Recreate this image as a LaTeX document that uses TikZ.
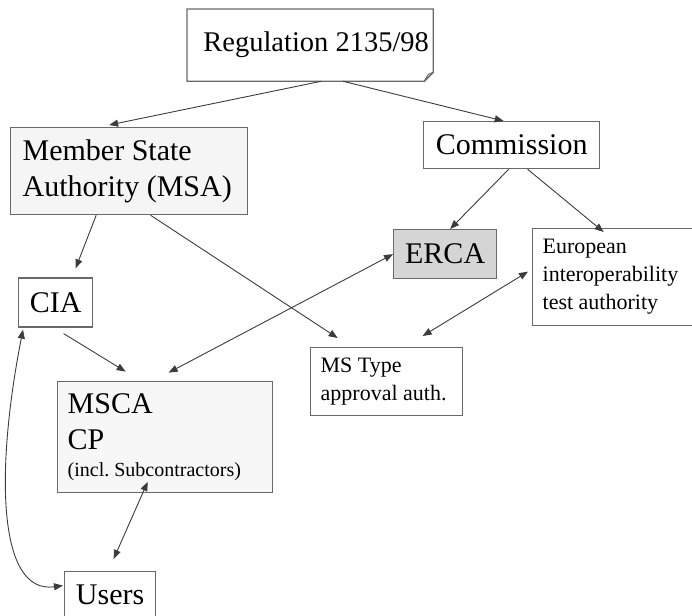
\documentclass[tikz,border=0pt]{standalone}
\usepackage{fontspec}
\setmainfont{Liberation Serif}
\frenchspacing
\usetikzlibrary{positioning, calc, arrows.meta}
\definecolor{boxline}{RGB}{105,105,105}
\definecolor{arrowline}{RGB}{60,60,60}
\tikzset{
bigtext/.style = {font = \fontsize{30}{36}\selectfont},
smalltext/.style = {font = \fontsize{22}{28}\selectfont},
authority/.style = {rectangle, draw = boxline, line width = 1.3pt, inner ysep = 0pt,
   inner xsep = 0pt, anchor = north west, bigtext},
leftbox/.style = {authority, align = flush left},
link/.style = {-{Triangle[length = 9pt, width = 7pt]}, color = arrowline,
   line width = 0.9pt},
mutual/.style = {{Triangle[length = 9pt, width = 7pt]}-{Triangle[length = 9pt, width = 7pt]},
   color = arrowline, line width = 0.9pt}
}
\begin{document}
\begin{tikzpicture}[x = 1pt, y = -1pt]
\useasboundingbox (0,0) rectangle (692,615);

%% Regulation (note with folded corner)
\node [authority, draw = none, bigtext, font = \fontsize{28.5}{34}\selectfont,
   minimum width = 245pt, minimum height = 71pt] (Reg) at (187,9) {\hspace{12pt}Regulation 2135/98};
\draw [draw = boxline, line width = 1.3pt] (Reg.north west) -- (Reg.north east)
   -- ([yshift = 9pt]Reg.south east) -- ([xshift = -9pt]Reg.south east)
   -- (Reg.south west) -- cycle;
\draw [draw = boxline, line width = 1pt] ([xshift = -9pt]Reg.south east)
   -- ([xshift = -5pt, yshift = 7pt]Reg.south east) -- ([yshift = 9pt]Reg.south east);

%% Member state side
\node [leftbox, fill = gray!8, inner xsep = 12pt, text width = 213pt,
   minimum height = 87pt] (MSA) at (10,127) {Member State\\Authority (MSA)};
\node [authority, minimum width = 74pt, minimum height = 49pt] (CIA)
   [below right = 62pt and 8pt of MSA.south west] {CIA};
\node [leftbox, fill = gray!6, inner xsep = 10pt, text width = 195pt,
   minimum height = 111pt] (MSCA) [below right = 53pt and 39pt of CIA.south west]
   {MSCA\\CP\\[-9pt]{\fontsize{20}{24}\selectfont (incl. Subcontractors)}};
\node [authority, minimum width = 91pt, minimum height = 47pt] (Users)
   [below right = 78pt and 7pt of MSCA.south west] {Users};

%% Commission side
\node [authority, minimum width = 176pt, minimum height = 47pt] (Com) at (423,121) {Commission};
\node [authority, fill = gray!33, minimum width = 103pt, minimum height = 49pt] (ERCA)
   at (393,229) {ERCA};
\node [leftbox, smalltext, inner xsep = 10pt, text width = 140pt, minimum height = 97pt]
   (Eur) at (532,228) {European\\interoperability\\test authority};
\node [leftbox, smalltext, inner xsep = 10pt, text width = 132pt, minimum height = 68pt]
   (MST) at (310,347) {MS Type\\approval auth.};

%% Hierarchy
\draw [link] ([xshift = 11pt]Reg.south) -- ([xshift = -20pt, yshift = 2pt]MSA.north);
\draw [link] ([xshift = 33pt]Reg.south) -- ([xshift = -8pt]Com.north);
\draw [link] ([xshift = -3pt]Com.south) -- ([xshift = 5pt]ERCA.north);
\draw [link] ([xshift = 16pt]Com.south) -- ([xshift = -9pt, yshift = -4pt]Eur.north);
\draw [link] ([xshift = -33pt]MSA.south) -- ([xshift = 20pt, yshift = 9pt]CIA.north);
\draw [link] ([xshift = 21.5pt]MSA.south) -- ([xshift = -49pt, yshift = 9pt]MST.north);
\draw [link] ([xshift = 8pt, yshift = -6pt]CIA.south) -- ([xshift = -39.5pt, yshift = 9pt]MSCA.north);

%% Mutual links
\draw [mutual] (ERCA.west) -- ([xshift = 3.5pt, yshift = 8pt]MSCA.north);
\draw [mutual] ([xshift = -4pt, yshift = 5.5pt]Eur.west) -- ([xshift = 36pt, yshift = 11pt]MST.north);
\draw [mutual] ([xshift = -17.5pt, yshift = 11pt]MSCA.south) -- ([xshift = 3.5pt, yshift = 12pt]Users.north);
\draw [mutual] ([xshift = 5pt, yshift = -2pt]CIA.south west)
   .. controls +(-28,143) and +(-65,9) .. ([xshift = -1pt, yshift = 9.5pt]Users.west);

\end{tikzpicture}
\end{document}
